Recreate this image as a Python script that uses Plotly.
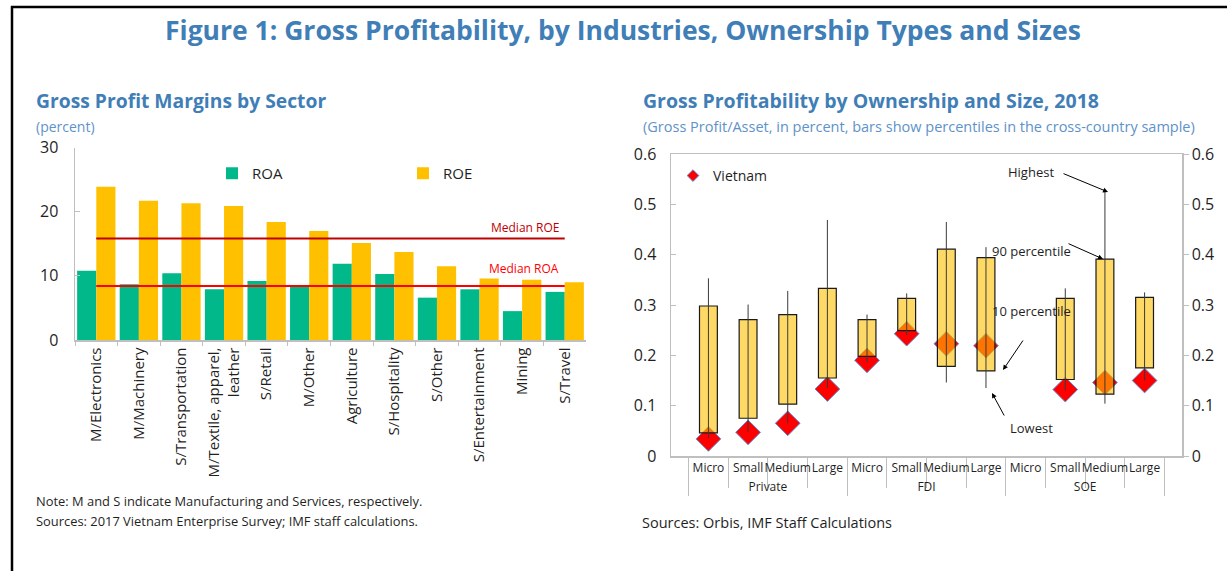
import plotly.graph_objects as go

W, H = 1227, 571

# ---------------- data ----------------
sectors = ["M/Electronics", "M/Machinery", "S/Transportation", "M/Textile, apparel,<br>leather",
           "S/Retail", "M/Other", "Agriculture", "S/Hospitality", "S/Other",
           "S/Entertainment", "Mining", "S/Travel"]
roa = [10.8, 8.7, 10.4, 7.9, 9.2, 8.4, 11.9, 10.3, 6.6, 7.9, 4.5, 7.5]
roe = [23.9, 21.7, 21.3, 20.9, 18.4, 17.0, 15.1, 13.7, 11.5, 9.6, 9.4, 9.0]
median_roe = 15.8
median_roa = 8.4

owners = ["Private"] * 4 + ["FDI"] * 4 + ["SOE"] * 4
sizes = ["Micro", "Small", "Medium", "Large"] * 3
p10 = [0.046, 0.075, 0.103, 0.155, 0.198, 0.249, 0.178, 0.169, None, 0.152, 0.123, 0.175]
p90 = [0.298, 0.271, 0.281, 0.333, 0.271, 0.313, 0.411, 0.394, None, 0.313, 0.391, 0.315]
lowest = [0.035, 0.047, 0.065, 0.135, 0.186, 0.240, 0.146, 0.135, None, 0.130, 0.104, 0.150]
highest = [0.353, 0.301, 0.328, 0.469, 0.281, 0.323, 0.465, 0.415, None, 0.333, 0.529, 0.325]
vietnam = [0.034, 0.047, 0.065, 0.133, 0.190, 0.243, 0.223, 0.219, None, 0.132, 0.146, 0.150]

# ---------------- helpers ----------------
def px(x):
    return x / W

def py(y):
    return 1 - y / H

GREEN = "#00B88A"
YELLOW = "#FFC000"
BLUE_T = "#3F7EB6"
BLUE_S = "#5E92C9"
AX = "#BFBFBF"
TXT = "#1F1F1F"
FONT = "Open Sans"

fig = go.Figure()

# ---------- left chart ----------
fig.add_trace(go.Bar(x=sectors, y=roa, name="ROA", marker=dict(color=GREEN, line=dict(width=0)),
                     xaxis="x", yaxis="y", legend="legend"))
fig.add_trace(go.Bar(x=sectors, y=roe, name="ROE", marker=dict(color=YELLOW, line=dict(width=0)),
                     xaxis="x", yaxis="y", legend="legend"))

# ---------- right chart ----------
xcat = [owners, sizes]
fig.add_trace(go.Scatter(x=xcat, y=vietnam, mode="markers", name="Vietnam", showlegend=False,
                         marker=dict(symbol="diamond", size=19, color="#FF0000",
                                     line=dict(color="#5B8FD0", width=1)),
                         xaxis="x2", yaxis="y2"))
# legend entry (small symbol, as in the reference)
fig.add_trace(go.Scatter(x=[None], y=[None], mode="markers", name="Vietnam",
                         marker=dict(symbol="diamond", size=9, color="#FF0000",
                                     line=dict(color="#5B8FD0", width=1)),
                         xaxis="x2", yaxis="y2", legend="legend2"))
span = [None if a is None else b - a for a, b in zip(p10, p90)]
fig.add_trace(go.Bar(x=xcat, y=span, base=p10, width=0.45, showlegend=False,
                     marker=dict(color="rgba(255,192,0,0.6)", line=dict(color="#1A1A1A", width=1.2)),
                     xaxis="x2", yaxis="y3"))
whisk_up = [None if a is None else b - a for a, b in zip(lowest, highest)]
fig.add_trace(go.Scatter(x=xcat, y=lowest, mode="markers", showlegend=False,
                         marker=dict(size=1, opacity=0),
                         error_y=dict(type="data", symmetric=False, array=whisk_up,
                                      arrayminus=[0] * len(lowest), width=0,
                                      thickness=1, color="#3A3A3A"),
                         xaxis="x2", yaxis="y3"))

# ---------- layout ----------
left_dom_x = [px(75), px(586)]
left_dom_y = [py(340), py(147.5)]
right_dom_x = [px(671), px(1182)]
right_dom_y = [py(456), py(154)]

fig.update_layout(
    width=W, height=H,
    margin=dict(l=0, r=0, t=0, b=0, pad=0, autoexpand=False),
    paper_bgcolor="white", plot_bgcolor="rgba(0,0,0,0)",
    font=dict(family=FONT, color=TXT),
    barmode="group", bargap=0.1, bargroupgap=0,
    hovermode=False,
    xaxis=dict(domain=left_dom_x, anchor="y", type="category", automargin=False,
               showline=True, linecolor=AX, linewidth=1.5,
               ticks="outside", tickson="boundaries", ticklen=4, tickcolor=AX,
               tickangle=-90, tickfont=dict(size=15, color=TXT), showgrid=False),
    yaxis=dict(domain=left_dom_y, anchor="x", range=[0, 30], dtick=10, automargin=False,
               showline=True, linecolor=AX, linewidth=1.5,
               ticks="inside", ticklen=5, tickcolor=AX, ticklabelstandoff=12,
               tickfont=dict(size=16, color=TXT), showgrid=False, zeroline=False),
    xaxis2=dict(domain=right_dom_x, anchor="y2", type="multicategory", automargin=False,
                showline=True, linecolor=AX, linewidth=1.5, mirror=True,
                ticks="outside", ticklen=30, tickcolor=AX, tickangle=0,
                showdividers=True, dividercolor=AX, dividerwidth=1,
                tickfont=dict(size=12, color=TXT), showgrid=False),
    yaxis2=dict(domain=right_dom_y, anchor="x2", range=[0, 0.6], dtick=0.1, automargin=False,
                showline=True, linecolor=AX, linewidth=1.5,
                ticks="inside", ticklen=5, tickcolor=AX, ticklabelstandoff=10,
                tickfont=dict(size=16, color=TXT), showgrid=False, zeroline=False),
    yaxis3=dict(overlaying="y2", anchor="x2", side="right", range=[0, 0.6], dtick=0.1,
                automargin=False,
                showline=True, linecolor=AX, linewidth=1.5,
                ticks="outside", ticklen=5, tickcolor=AX,
                tickfont=dict(size=16, color=TXT), showgrid=False, zeroline=False),
    legend=dict(orientation="h", x=px(212), y=py(157), xanchor="left", yanchor="top",
                entrywidth=146, entrywidthmode="pixels", bgcolor="rgba(0,0,0,0)",
                font=dict(size=15, color=TXT), itemwidth=30, traceorder="normal"),
    legend2=dict(orientation="h", x=px(673), y=py(160), xanchor="left", yanchor="top",
                 bgcolor="rgba(0,0,0,0)", font=dict(size=14, color=TXT), itemwidth=30),
    showlegend=True,
)

shapes = [
    # outer frame (top and left edges; the rest lies outside the picture)
    dict(type="line", xref="paper", yref="paper", x0=px(11), x1=1.0, y0=py(7), y1=py(7),
         line=dict(color="black", width=2.5), layer="above"),
    dict(type="line", xref="paper", yref="paper", x0=px(12), x1=px(12), y0=0, y1=py(6),
         line=dict(color="black", width=2.5), layer="above"),
    # medians
    dict(type="line", xref="x", yref="y", x0=0, x1=11, y0=median_roe, y1=median_roe,
         line=dict(color="#C00000", width=2)),
    dict(type="line", xref="x", yref="y", x0=0, x1=11, y0=median_roa, y1=median_roa,
         line=dict(color="#FF0000", width=2)),
]
fig.update_layout(shapes=shapes)

ann = []
def text(x, y, s, size, color=TXT, bold=False, xanchor="left"):
    ann.append(dict(xref="paper", yref="paper", x=px(x), y=py(y), text=("<b>%s</b>" % s) if bold else s,
                    showarrow=False, xanchor=xanchor, yanchor="middle",
                    font=dict(size=size, color=color, family=FONT)))

def arrow(x0, y0, x1, y1):
    ann.append(dict(xref="paper", yref="paper", x=px(x1), y=py(y1), text="",
                    showarrow=True, ax=x0 - x1, ay=y0 - y1, axref="pixel", ayref="pixel",
                    arrowhead=2, arrowsize=1, arrowwidth=1, arrowcolor="black"))

text(623, 30, "Figure 1: Gross Profitability, by Industries, Ownership Types and Sizes", 26.5, BLUE_T, True, "center")
text(34, 100, "Gross Profit Margins by Sector", 19.3, BLUE_T, True)
text(34, 126, "(percent)", 14, BLUE_S)
text(641, 100, "Gross Profitability by Ownership and Size, 2018", 19.5, BLUE_T, True)
text(641, 126, "(Gross Profit/Asset, in percent, bars show percentiles in the cross-country sample)", 14.5, BLUE_S)
text(34, 501, "Note: M and S indicate Manufacturing and Services, respectively.", 12.9)
text(34, 521, "Sources: 2017 Vietnam Enterprise Survey; IMF staff calculations.", 12.9)
text(640, 522, "Sources: Orbis, IMF Staff Calculations", 14.5)
text(561, 228, "Median ROE", 12, "#C00000", False, "right")
text(561, 268, "Median ROA", 12, "#FF0000", False, "right")

text(1031, 172, "Highest", 13, TXT, False, "center")
text(1031, 251, "90 percentile", 13, TXT, False, "center")
text(1031, 311, "10 percentile", 13, TXT, False, "center")
text(1031, 428, "Lowest", 13, TXT, False, "center")
arrow(1062, 173, 1108, 192)
arrow(1067, 243, 1103, 259)
arrow(1024, 339, 1003, 370)
arrow(1005, 417, 992, 393)

fig.update_layout(annotations=ann)

# remove the browser's default 8px body margin so the figure starts at the page corner
fig.write_html("out.html", config={"displayModeBar": False, "staticPlot": True},
               post_script="document.body.style.margin='0';document.body.style.overflow='hidden';")
